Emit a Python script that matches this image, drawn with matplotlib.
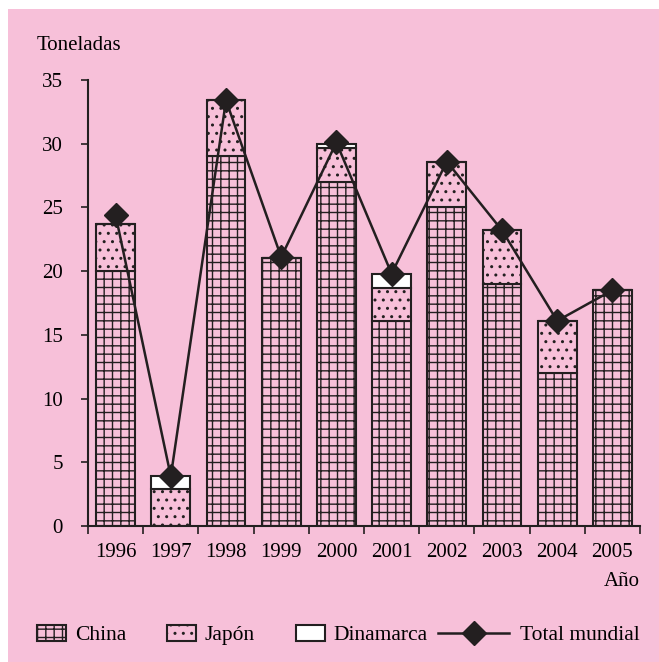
import matplotlib
matplotlib.use("Agg")
import matplotlib.pyplot as plt
from matplotlib.patches import Patch, Rectangle
from matplotlib.lines import Line2D
import numpy as np

years = ["1996", "1997", "1998", "1999", "2000", "2001", "2002", "2003", "2004", "2005"]
china = [20.0, 0.0, 29.0, 21.0, 27.0, 16.1, 25.0, 19.0, 12.0, 18.5]
japon = [3.7, 2.9, 4.4, 0.0, 2.7, 2.6, 3.6, 4.2, 4.1, 0.0]
dinamarca = [0.0, 1.0, 0.0, 0.0, 0.3, 1.1, 0.0, 0.0, 0.0, 0.0]
total_mundial = [24.4, 3.9, 33.4, 21.1, 30.1, 19.8, 28.6, 23.2, 16.1, 18.5]

pink = "#f7c0d9"
ink = "#231f20"

plt.rcParams["font.family"] = ["Liberation Serif", "DejaVu Serif"]
plt.rcParams["hatch.color"] = ink
plt.rcParams["hatch.linewidth"] = 1.0

fig = plt.figure(figsize=(6.59, 6.62), dpi=100)
fig.patches.append(Rectangle((8 / 659, 0), 1, 1 - 9 / 662, transform=fig.transFigure,
                             facecolor=pink, edgecolor="none", zorder=-10))

ax = fig.add_axes([88 / 659, 136 / 662, 552 / 659, 446 / 662])
ax.set_facecolor("none")

x = np.arange(len(years))
china = np.array(china)
japon = np.array(japon)
dinamarca = np.array(dinamarca)
w = 0.7
ax.bar(x, china, w, facecolor=pink, edgecolor=ink, hatch="++", linewidth=1.5)
ax.bar(x, japon, w, bottom=china, facecolor=pink, edgecolor=ink, hatch="..", linewidth=1.5)
ax.bar(x, dinamarca, w, bottom=china + japon, facecolor="white", edgecolor=ink, linewidth=1.5)
ax.plot(x, total_mundial, color=ink, linewidth=1.8, marker="D", markersize=12, zorder=5)

ax.set_xlim(-0.5, len(years) - 0.5)
ax.set_ylim(0, 35)
ax.set_yticks(range(0, 36, 5))
ax.set_xticks(np.arange(-0.5, len(years), 1))
ax.set_xticklabels([])
ax.set_xticks(x, minor=True)
ax.set_xticklabels(years, minor=True)
ax.tick_params(axis="x", which="minor", length=0, pad=12, labelsize=15)
ax.tick_params(axis="x", which="major", length=6, width=1.2, color=ink)
ax.tick_params(axis="y", length=5, width=1.2, color=ink, labelsize=15, pad=13)
for s in ["top", "right"]:
    ax.spines[s].set_visible(False)
for s in ["left", "bottom"]:
    ax.spines[s].set_linewidth(1.5)
    ax.spines[s].set_color(ink)

fig.text(37 / 659, 1 - 46 / 662, "Toneladas", fontsize=15, va="center", ha="left")
fig.text(640 / 659, 1 - 582 / 662, "Año", fontsize=15, va="center", ha="right")

h1 = [Patch(facecolor=pink, edgecolor=ink, hatch="++", linewidth=1.5),
      Patch(facecolor=pink, edgecolor=ink, hatch="..", linewidth=1.5),
      Patch(facecolor="white", edgecolor=ink, linewidth=1.5)]
fig.legend(h1, ["China", "Japón", "Dinamarca"], loc="center left",
           bbox_to_anchor=(37 / 659, 1 - 635 / 662), ncol=3, frameon=False,
           fontsize=15.5, handlelength=1.35, handleheight=0.75, handletextpad=0.4,
           columnspacing=1.9, borderaxespad=0, borderpad=0)
h2 = [Line2D([], [], color=ink, linewidth=1.8, marker="D", markersize=12)]
fig.legend(h2, ["Total mundial"], loc="center left",
           bbox_to_anchor=(438 / 659, 1 - 635 / 662), frameon=False, fontsize=15.5,
           handlelength=3.3, handletextpad=0.5, borderaxespad=0, borderpad=0)

fig.savefig("out.png", dpi=100)
